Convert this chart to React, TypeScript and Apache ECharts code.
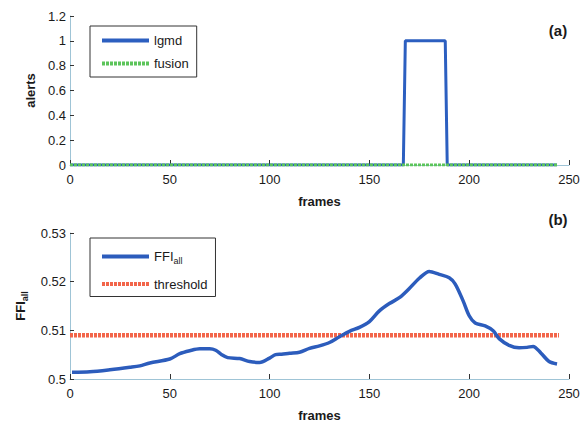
import React, { useEffect, useRef } from "react";
import * as echarts from "echarts";

// ---- data ----
const xTicks = [0, 50, 100, 150, 200, 250];
const alertTicks = [0, 0.2, 0.4, 0.6, 0.8, 1, 1.2];
const ffiTicks = [0.5, 0.51, 0.52, 0.53];

const lgmdFrames = [0, 167, 168, 188, 189, 244];
const lgmdValues = [0, 0, 1, 1, 0, 0];
const fusionFrames = [0, 244];
const fusionValues = [0, 0];

const ffiFrames = [
  1, 10, 20, 30, 35, 40, 50, 55, 60, 65, 70, 73, 76, 79, 85, 90, 95, 100, 103,
  106, 110, 115, 120, 125, 130, 135, 140, 145, 150, 155, 160, 165, 170, 175,
  180, 185, 190, 193, 197, 200, 203, 208, 212, 215, 220, 225, 229, 232, 236,
  240, 244,
];
const ffiValues = [
  0.5014, 0.5015, 0.5019, 0.5024, 0.5027, 0.5033, 0.5041, 0.5052, 0.5058,
  0.5062, 0.5062, 0.5059, 0.505, 0.5044, 0.5042, 0.5036, 0.5034, 0.5043,
  0.505, 0.5051, 0.5053, 0.5055, 0.5063, 0.5068, 0.5075, 0.5087, 0.5098,
  0.5106, 0.5118, 0.514, 0.5155, 0.5167, 0.5186, 0.5207, 0.5221, 0.5215,
  0.5208, 0.5195, 0.516, 0.513, 0.5115, 0.5109, 0.5099, 0.5083, 0.5069,
  0.5064, 0.5065, 0.5067, 0.5053, 0.5036, 0.5031,
];
const thresholdFrames = [0, 245];
const thresholdValues = [0.509, 0.509];

const FONT = "Liberation Sans, Arial, Helvetica, sans-serif";
const AXIS_COLOR = "#9fc4d6";
const TICK_COLOR = "#333";
const TEXT_COLOR = "#1a1a1a";

function zip(xs: number[], ys: number[]) {
  return xs.map((x, i) => [x, ys[i]]);
}

const hiddenSymbol = { color: "transparent", borderColor: "transparent", borderWidth: 0, opacity: 0 };

export default function App() {
  const ref = useRef<HTMLDivElement>(null);
  useEffect(() => {
    if (!ref.current) return;
    const chart = echarts.init(ref.current, undefined, { renderer: "svg" });

    const xAxisBase = (gridIndex: number) => ({
      type: "value" as const,
      gridIndex,
      min: 0,
      max: 250,
      interval: 50,
      name: "frames",
      nameLocation: "middle" as const,
      nameGap: 30,
      nameTextStyle: { fontFamily: FONT, fontSize: 13, fontWeight: "bold", color: TEXT_COLOR },
      axisLine: { show: true, lineStyle: { color: AXIS_COLOR, width: 1 } },
      axisTick: { show: true, inside: true, length: 5, lineStyle: { color: TICK_COLOR } },
      axisLabel: {
        fontFamily: FONT,
        fontSize: 13,
        color: TEXT_COLOR,
        margin: 8,
      },
      splitLine: { show: false },
    });

    const option: any = {
      animation: false,
      backgroundColor: "#fff",
      grid: [
        { left: 70, right: 18, top: 16, height: 149 },
        { left: 70, right: 18, top: 233, height: 147 },
      ],
      xAxis: [xAxisBase(0), xAxisBase(1)],
      yAxis: [
        {
          type: "value",
          gridIndex: 0,
          min: 0,
          max: 1.2,
          interval: 0.2,
          name: "alerts",
          nameLocation: "middle",
          nameGap: 30,
          nameTextStyle: { fontFamily: FONT, fontSize: 13, fontWeight: "bold", color: TEXT_COLOR },
          axisLine: { show: true, lineStyle: { color: AXIS_COLOR, width: 1 } },
          axisTick: { show: true, inside: true, length: 4, lineStyle: { color: TICK_COLOR } },
          axisLabel: {
            fontFamily: FONT,
            fontSize: 13,
            color: TEXT_COLOR,
            margin: 4,
            formatter: (v: number) => String(parseFloat(v.toFixed(1))),
          },
          splitLine: { show: false },
        },
        {
          type: "value",
          gridIndex: 1,
          min: 0.5,
          max: 0.53,
          interval: 0.01,
          name: "FFI{sub|all}",
          nameLocation: "middle",
          nameGap: 41,
          nameTextStyle: {
            fontFamily: FONT,
            fontSize: 13,
            fontWeight: "bold",
            color: TEXT_COLOR,
            rich: {
              sub: {
                fontFamily: FONT,
                fontSize: 9,
                fontWeight: "bold",
                color: TEXT_COLOR,
                verticalAlign: "bottom",
                padding: [8, 0, 0, 0],
              },
            },
          },
          axisLine: { show: true, lineStyle: { color: AXIS_COLOR, width: 1 } },
          axisTick: { show: true, inside: true, length: 4, lineStyle: { color: TICK_COLOR } },
          axisLabel: {
            fontFamily: FONT,
            fontSize: 13,
            color: TEXT_COLOR,
            margin: 4,
            formatter: (v: number) => String(parseFloat(v.toFixed(2))),
          },
          splitLine: { show: false },
        },
      ],
      legend: [
        {
          data: ["lgmd", "fusion"],
          orient: "vertical",
          left: 90,
          top: 26,
          padding: [8, 8, 7, 10],
          itemWidth: 47,
          itemHeight: 14,
          itemGap: 10,
          backgroundColor: "#fff",
          borderColor: "#333",
          borderWidth: 1,
          itemStyle: hiddenSymbol,
          lineStyle: { width: 4 },
          textStyle: { fontFamily: FONT, fontSize: 13, color: TEXT_COLOR },
        },
        {
          data: ["FFI_all", "threshold"],
          orient: "vertical",
          left: 90,
          top: 238,
          padding: [12, 8, 6, 10],
          itemWidth: 47,
          itemHeight: 14,
          itemGap: 12,
          backgroundColor: "#fff",
          borderColor: "#333",
          borderWidth: 1,
          itemStyle: hiddenSymbol,
          lineStyle: { width: 4 },
          formatter: (name: string) => (name === "FFI_all" ? "FFI{sub|all}" : name),
          textStyle: {
            fontFamily: FONT,
            fontSize: 13,
            color: TEXT_COLOR,
            rich: {
              sub: {
                fontFamily: FONT,
                fontSize: 9,
                color: TEXT_COLOR,
                verticalAlign: "bottom",
                padding: [9, 0, 0, 0],
              },
            },
          },
        },
      ],
      series: [
        {
          name: "lgmd",
          type: "line",
          xAxisIndex: 0,
          yAxisIndex: 0,
          data: zip(lgmdFrames, lgmdValues),
          symbol: "none",
          lineStyle: { color: "#2c5fc0", width: 3 },
          itemStyle: { color: "#2c5fc0" },
          z: 2,
        },
        {
          name: "fusion",
          type: "line",
          xAxisIndex: 0,
          yAxisIndex: 0,
          data: zip(fusionFrames, fusionValues),
          symbol: "none",
          lineStyle: { color: "#5cc45a", width: 3, type: [3, 1] },
          itemStyle: { color: "#5cc45a" },
          z: 3,
        },
        {
          name: "FFI_all",
          type: "line",
          xAxisIndex: 1,
          yAxisIndex: 1,
          data: zip(ffiFrames, ffiValues),
          symbol: "none",
          smooth: 0.3,
          lineStyle: { color: "#2c5cbc", width: 3.5 },
          itemStyle: { color: "#2c5cbc" },
          z: 3,
        },
        {
          name: "threshold",
          type: "line",
          xAxisIndex: 1,
          yAxisIndex: 1,
          data: zip(thresholdFrames, thresholdValues),
          symbol: "none",
          lineStyle: { color: "#f2654a", width: 4.5, type: [3, 1] },
          itemStyle: { color: "#f2654a" },
          z: 2,
        },
      ],
      graphic: [
        {
          type: "text",
          x: 558,
          y: 30,
          style: {
            text: "(a)",
            fontFamily: FONT,
            fontSize: 15,
            fontWeight: "bold",
            fill: TEXT_COLOR,
            align: "center",
            verticalAlign: "middle",
          },
        },
        {
          type: "text",
          x: 558,
          y: 219,
          style: {
            text: "(b)",
            fontFamily: FONT,
            fontSize: 15,
            fontWeight: "bold",
            fill: TEXT_COLOR,
            align: "center",
            verticalAlign: "middle",
          },
        },
      ],
    };
    chart.setOption(option);
    return () => chart.dispose();
  }, []);

  return (
    <div
      ref={ref}
      style={{ position: "fixed", left: 0, top: 0, width: 587, height: 423, background: "#fff" }}
    />
  );
}
